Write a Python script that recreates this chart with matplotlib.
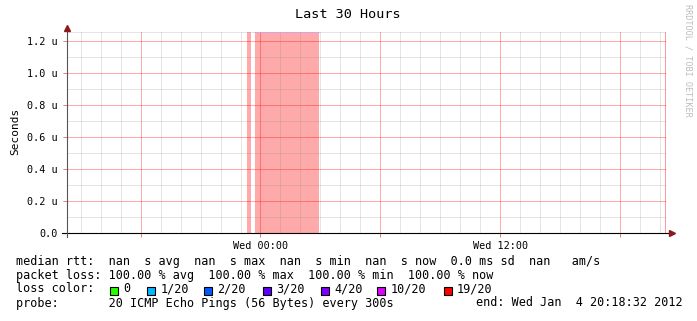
import matplotlib
matplotlib.use("Agg")
import matplotlib.pyplot as plt
from matplotlib.patches import Rectangle
from matplotlib.lines import Line2D

W, H = 697, 321
MONO = "DejaVu Sans Mono"

# time axis in hours relative to Wed 00:00, graph ends Wed 20:18:32
t_end = 20 + 18 / 60 + 32 / 3600
t_start = t_end - 30

# periods with 100% packet loss (hours)
loss_start = [-0.67, -0.30]
loss_end = [-0.50, 2.95]

# y axis (micro seconds)
y_max = 1.256
ytick_vals = [0.0, 0.2, 0.4, 0.6, 0.8, 1.0, 1.2]
ytick_labels = ["0.0", "0.2 u", "0.4 u", "0.6 u", "0.8 u", "1.0 u", "1.2 u"]
xtick_vals = [-6, 0, 6, 12, 18]
xtick_labels = ["", "Wed 00:00", "", "Wed 12:00", ""]

loss_labels = ["0", "1/20", "2/20", "3/20", "4/20", "10/20", "19/20"]
loss_colors = ["#26ff00", "#00b8ff", "#0059ff", "#5e00ff", "#7e00ff", "#dd00ff", "#ff0000"]

legend_rows = [
    "median rtt:  nan  s avg  nan  s max  nan  s min  nan  s now  0.0 ms sd  nan   am/s",
    "packet loss: 100.00 % avg  100.00 % max  100.00 % min  100.00 % now",
]
probe_text = "probe:       20 ICMP Echo Pings (56 Bytes) every 300s"
end_text = "end: Wed Jan  4 20:18:32 2012"


def fx(px):
    return px / W


def fy(py):
    return 1 - py / H


fig = plt.figure(figsize=(W / 100, H / 100), dpi=100)
fig.patch.set_facecolor("white")
ax = fig.add_axes([fx(67), fy(233), fx(666) - fx(67), fy(32) - fy(233)])
ax.set_xlim(t_start, t_end)
ax.set_ylim(0, y_max)

for s, e in zip(loss_start, loss_end):
    ax.axvspan(s, e, color="#ffaaaa", lw=0, zorder=1)
ax.plot([loss_start[1], loss_end[1]], [y_max * 0.998] * 2, color="#cfa6ee", lw=1.2, zorder=3)

# grid
minor_c = (0.5, 0.5, 0.5, 0.2)
major_c = (1.0, 0.0, 0.0, 0.33)
h = int(t_start) - 1
while h <= t_end:
    if t_start < h < t_end:
        ax.axvline(h, color=major_c if h % 6 == 0 else minor_c, lw=0.72, zorder=2, snap=True)
    h += 1
for i in range(13):
    ax.axhline(i * 0.1, color=major_c if i % 2 == 0 else minor_c, lw=0.72, zorder=2, snap=True)
ax.axvline(t_end - 0.06, color=(1, 0, 0, 0.4), lw=0.72, zorder=2, snap=True)
ax.axhline(y_max, color=minor_c, lw=0.72, zorder=2, snap=True)

for sp in ax.spines.values():
    sp.set_visible(False)

ax.set_yticks(ytick_vals)
ax.set_yticklabels(ytick_labels, family=MONO, fontsize=7.3)
ax.set_xticks(xtick_vals)
ax.set_xticklabels(xtick_labels, family=MONO, fontsize=7.3)
ax.tick_params(axis="y", length=3, width=0.7, color="#cc8888", pad=3.5)
ax.tick_params(axis="x", length=3, width=0.7, color="#cc8888", pad=2.5)

# axes with arrows
fig.add_artist(Line2D([fx(62), fx(670)], [fy(233), fy(233)], color="black", lw=0.8))
fig.add_artist(Line2D([fx(67), fx(67)], [fy(237), fy(29)], color="#555555", lw=0.8))
fig.add_artist(Line2D([fx(672)], [fy(233)], marker=">", color="#8b1a1a", markersize=4, lw=0))
fig.add_artist(Line2D([fx(67)], [fy(28)], marker="^", color="#8b1a1a", markersize=4, lw=0))

fig.text(fx(348), fy(15), "Last 30 Hours", ha="center", va="center", family=MONO, fontsize=9.7)
fig.text(fx(15), fy(131), "Seconds", rotation=90, ha="center", va="center", family=MONO, fontsize=8)
fig.text(fx(688), fy(4), "RRDTOOL / TOBI OETIKER", rotation=270, ha="center", va="top",
         family=MONO, fontsize=6.1, color="#bdbdbd")

# legend
lx = fx(16)
for i, row in enumerate(legend_rows):
    fig.text(lx, fy(264.5 + 14 * i), row, family=MONO, fontsize=8.5, va="baseline")
fig.text(lx, fy(292.5), "loss color:", family=MONO, fontsize=8.5, va="baseline")
box_x = [109.5, 147, 204, 262.5, 320.5, 377, 443.5]
for bx, lab, col in zip(box_x, loss_labels, loss_colors):
    fig.add_artist(Rectangle((fx(bx), fy(294.5)), fx(8), 8 / H, transform=fig.transFigure,
                             facecolor=col, edgecolor="black", lw=0.8))
    fig.text(fx(bx + 13.5), fy(292.5), lab, family=MONO, fontsize=8.5, va="baseline")
fig.text(lx, fy(306.5), probe_text, family=MONO, fontsize=8.5, va="baseline")
fig.text(fx(683), fy(306.5), end_text, family=MONO, fontsize=8.5, va="baseline", ha="right")

fig.savefig("out.png", dpi=100, facecolor="white")
